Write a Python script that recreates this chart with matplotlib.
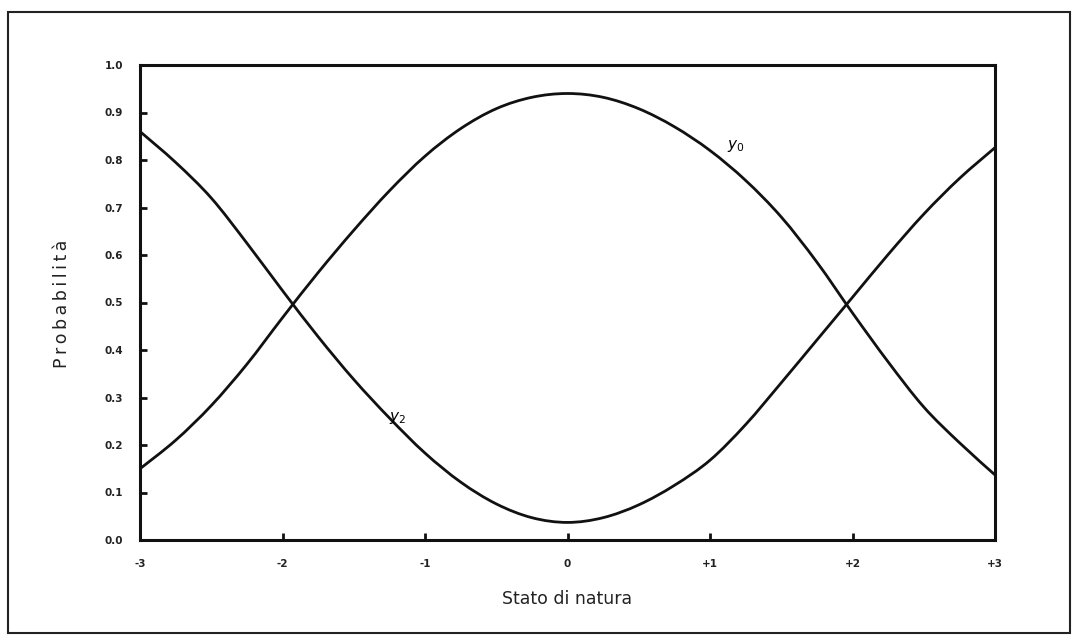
import numpy as np
import matplotlib
matplotlib.use("Agg")
import matplotlib.pyplot as plt
import matplotlib.patches as patches
from matplotlib.path import Path

# values
stato = [-3.0, -2.75, -2.5, -2.25, -2.0, -1.75, -1.5, -1.25, -1.0, -0.75, -0.5, -0.25,
         0.0, 0.25, 0.5, 0.75, 1.0, 1.25, 1.5, 1.75, 2.0, 2.25, 2.5, 2.75, 3.0]
y0 = [0.15, 0.21, 0.283, 0.37, 0.468, 0.563, 0.652, 0.735, 0.808, 0.866, 0.908, 0.932,
      0.94, 0.932, 0.908, 0.87, 0.82, 0.757, 0.68, 0.585, 0.478, 0.375, 0.28, 0.205, 0.137]
y2 = [0.86, 0.795, 0.72, 0.625, 0.525, 0.428, 0.338, 0.257, 0.183, 0.122, 0.076, 0.047,
      0.037, 0.047, 0.074, 0.115, 0.168, 0.243, 0.331, 0.421, 0.511, 0.601, 0.686, 0.761, 0.826]

x_ticks = [-3, -2, -1, 0, 1, 2, 3]
x_labels = ["-3", "-2", "-1", "0", "+1", "+2", "+3"]
y_ticks = [0.0, 0.1, 0.2, 0.3, 0.4, 0.5, 0.6, 0.7, 0.8, 0.9, 1.0]
y_labels = ["%.1f" % v for v in y_ticks]


def smooth_path(xs, ys):
    """Bezier path passing through the read points (Catmull-Rom tangents)"""
    p = np.column_stack([xs, ys]).astype(float)
    verts = [p[0]]
    codes = [Path.MOVETO]
    for i in range(len(p) - 1):
        p0 = p[i - 1] if i > 0 else p[i]
        p3 = p[i + 2] if i + 2 < len(p) else p[i + 1]
        c1 = p[i] + (p[i + 1] - p0) / 6
        c2 = p[i + 1] - (p3 - p[i]) / 6
        verts += [c1, c2, p[i + 1]]
        codes += [Path.CURVE4] * 3
    return Path(verts, codes)


W, H = 1081, 635
fig = plt.figure(figsize=(W / 100, H / 100), dpi=100)
fig.patch.set_facecolor("white")

# outer frame of the picture
fig.add_artist(patches.Rectangle((8 / W, 2 / H), 1062 / W, 621 / H,
                                 transform=fig.transFigure, fill=False,
                                 edgecolor="#222222", linewidth=1.5))

ax = fig.add_axes([140 / W, 1 - 540 / H, 855 / W, 475 / H])
for ys in (y0, y2):
    ax.add_patch(patches.PathPatch(smooth_path(stato, ys), fill=False,
                                   edgecolor="#111111", linewidth=2.0))

ax.set_xlim(-3, 3)
ax.set_ylim(0, 1)
for s in ax.spines.values():
    s.set_linewidth(2.2)
    s.set_color("#111111")

ax.set_xticks(x_ticks)
ax.set_xticklabels(x_labels, fontsize=7.5, fontweight="bold", color="#222222")
ax.set_yticks(y_ticks)
ax.set_yticklabels(y_labels, fontsize=7.5, fontweight="bold", color="#222222")
ax.tick_params(direction="in", length=5, width=2, color="#111111")
ax.tick_params(axis="x", pad=14)
ax.tick_params(axis="y", pad=12)

ax.text(1.18, 0.83, r"$y_0$", fontsize=11, ha="center", va="center")
ax.text(-1.19, 0.257, r"$y_2$", fontsize=11, ha="center", va="center")

fig.text(567 / W, 1 - 599 / H, "Stato di natura", fontsize=12.5,
         ha="center", va="center", color="#222222")
fig.text(62 / W, 1 - 304 / H, "\u2009".join("Probabilità"), fontsize=12.5, rotation=90,
         ha="center", va="center", color="#222222")

fig.savefig("out.png", dpi=100, facecolor="white")
